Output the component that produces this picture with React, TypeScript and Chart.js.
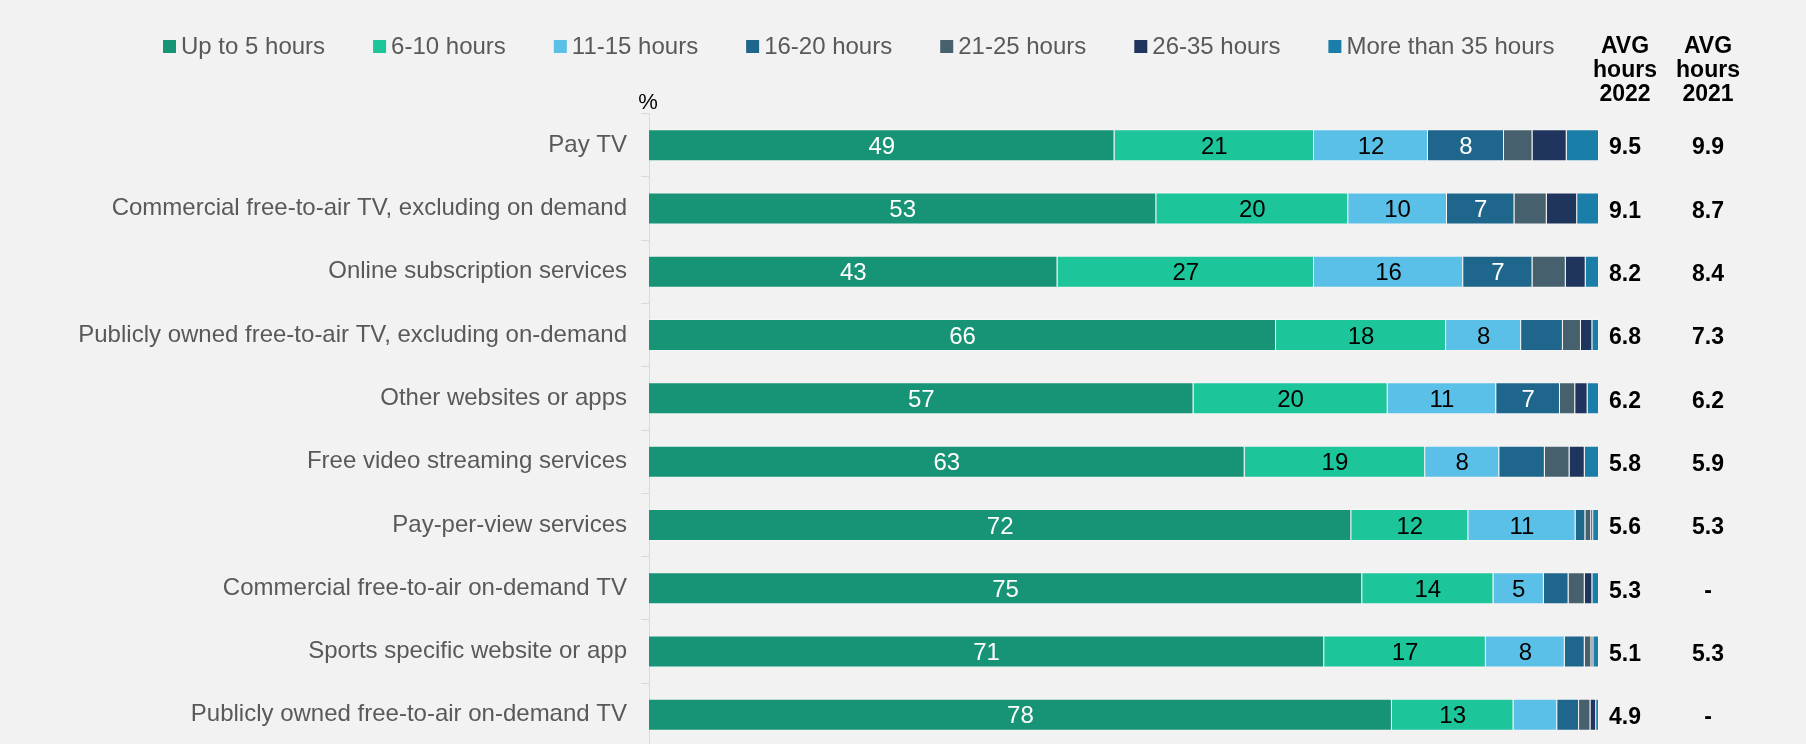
import React, { useEffect, useRef } from "react";
import { Chart, registerables } from "chart.js";

Chart.register(...registerables);

const categories = [
  "Pay TV",
  "Commercial free-to-air TV, excluding on demand",
  "Online subscription services",
  "Publicly owned free-to-air TV, excluding on-demand",
  "Other websites or apps",
  "Free video streaming services",
  "Pay-per-view services",
  "Commercial free-to-air on-demand TV",
  "Sports specific website or app",
  "Publicly owned free-to-air on-demand TV",
];

const seriesNames = [
  "Up to 5 hours",
  "6-10 hours",
  "11-15 hours",
  "16-20 hours",
  "21-25 hours",
  "26-35 hours",
  "More than 35 hours",
];

const upTo5 = [49, 53.4, 43, 66, 57.2, 62.7, 72, 75, 71, 78.2];
const h6to10 = [21, 20.2, 27, 17.9, 20.4, 19, 12, 13.8, 17, 12.8];
const h11to15 = [12, 10.4, 15.7, 7.9, 11.4, 7.8, 11, 5.3, 8.3, 4.6];
const h16to20 = [8, 7.1, 7.3, 4.4, 6.7, 4.8, 1.0, 2.6, 2.1, 2.3];
const h21to25 = [3, 3.4, 3.5, 1.9, 1.6, 2.6, 0.6, 1.7, 0.7, 1.2];
const h26to35 = [3.6, 3.2, 2.1, 1.2, 1.3, 1.6, 0.2, 0.8, 0.2, 0.6];
const over35 = [3.4, 2.3, 1.4, 0.7, 1.2, 1.5, 0.6, 0.7, 0.6, 0.3];

const avg2022 = [9.5, 9.1, 8.2, 6.8, 6.2, 5.8, 5.6, 5.3, 5.1, 4.9];
const avg2021: (number | null)[] = [9.9, 8.7, 8.4, 7.3, 6.2, 5.9, 5.3, null, 5.3, null];

const colors = ["#179475", "#1dc59b", "#5bc0e8", "#1f668c", "#46606e", "#1f355e", "#1a7ea8"];
const labelColors = ["#ffffff", "#000000", "#000000", "#ffffff", "#ffffff", "#ffffff", "#ffffff"];

const FONT = "'Liberation Sans', Arial, sans-serif";

export default function App() {
  const ref = useRef<HTMLCanvasElement | null>(null);

  useEffect(() => {
    document.body.style.margin = "0";
    const raw = [upTo5, h6to10, h11to15, h16to20, h21to25, h26to35, over35];
    const totals = categories.map((_, j) => raw.reduce((s, arr) => s + arr[j], 0));

    const overlay = {
      id: "overlay",
      afterDatasetsDraw(chart: any) {
        const ctx = chart.ctx;
        ctx.save();
        ctx.font = `24px ${FONT}`;
        ctx.textAlign = "center";
        ctx.textBaseline = "middle";
        raw.forEach((arr, i) => {
          const meta = chart.getDatasetMeta(i);
          meta.data.forEach((el: any, j: number) => {
            const v = arr[j];
            if (v < 5) return;
            const p = el.getProps(["x", "y", "base"], true);
            ctx.fillStyle = labelColors[i];
            ctx.fillText(String(Math.round(v)), (p.x + p.base) / 2, p.y + 2);
          });
        });
        ctx.restore();
      },
      afterDraw(chart: any) {
        const ctx = chart.ctx;
        const area = chart.chartArea;
        const yScale = chart.scales.y;
        ctx.save();
        // legend
        ctx.font = `24px ${FONT}`;
        ctx.textBaseline = "middle";
        ctx.textAlign = "left";
        let x = 163;
        const ly = 46.5;
        seriesNames.forEach((name, i) => {
          ctx.fillStyle = colors[i];
          ctx.fillRect(x, ly - 6.5, 13, 13);
          ctx.fillStyle = "#595959";
          ctx.fillText(name, x + 18, ly + 1);
          x += 18 + ctx.measureText(name).width + 48;
        });
        // % label
        ctx.fillStyle = "#000000";
        ctx.textAlign = "center";
        ctx.font = `22px ${FONT}`;
        ctx.fillText("%", area.left - 1, 103);
        // AVG headers
        const c1 = area.right + 26;
        const c2 = area.right + 109;
        ctx.font = `bold 23px ${FONT}`;
        const lines1 = ["AVG", "hours", "2022"];
        const lines2 = ["AVG", "hours", "2021"];
        const ys = [47, 71, 95];
        lines1.forEach((t, k) => ctx.fillText(t, c1, ys[k]));
        lines2.forEach((t, k) => ctx.fillText(t, c2, ys[k]));
        categories.forEach((_, j) => {
          const y = yScale.getPixelForValue(j) + 3;
          ctx.fillText(avg2022[j].toFixed(1), c1, y);
          const v = avg2021[j];
          ctx.fillText(v === null ? "-" : v.toFixed(1), c2, y);
        });
        ctx.restore();
      },
    };

    const chart = new Chart(ref.current as HTMLCanvasElement, {
      type: "bar",
      data: {
        labels: categories,
        datasets: raw.map((arr, i) => ({
          label: seriesNames[i],
          data: arr.map((v, j) => (v / totals[j]) * 100),
          backgroundColor: colors[i],
          borderColor: "rgba(255,255,255,0.3)",
          borderWidth: 1,
          borderSkipped: "start",
          categoryPercentage: 1,
          barPercentage: 0.505,
        })),
      },
      options: {
        indexAxis: "y",
        responsive: false,
        animation: false,
        devicePixelRatio: 1,
        layout: { padding: { left: 0, right: 207, top: 113.5, bottom: 53.5 } },
        plugins: {
          legend: { display: false },
          tooltip: { enabled: false },
          title: { display: false },
        },
        scales: {
          x: { stacked: true, min: 0, max: 100, display: false },
          y: {
            stacked: true,
            afterFit: (scale: any) => {
              scale.width = 649;
            },
            border: { display: true, color: "#d9d9d9", width: 1 },
            grid: {
              display: true,
              offset: true,
              drawOnChartArea: false,
              drawTicks: true,
              tickLength: 8,
              color: "#d9d9d9",
            },
            ticks: {
              color: "#595959",
              padding: 14,
              font: { family: FONT, size: 24 },
            },
          },
        },
      },
      plugins: [overlay],
    } as any);

    return () => chart.destroy();
  }, []);

  return (
    <div
      style={{
        position: "fixed",
        left: 0,
        top: 0,
        width: 1806,
        height: 744,
        overflow: "hidden",
        background: "#f2f2f2",
      }}
    >
      <canvas ref={ref} width={1806} height={800} style={{ display: "block", width: 1806, height: 800 }} />
    </div>
  );
}
